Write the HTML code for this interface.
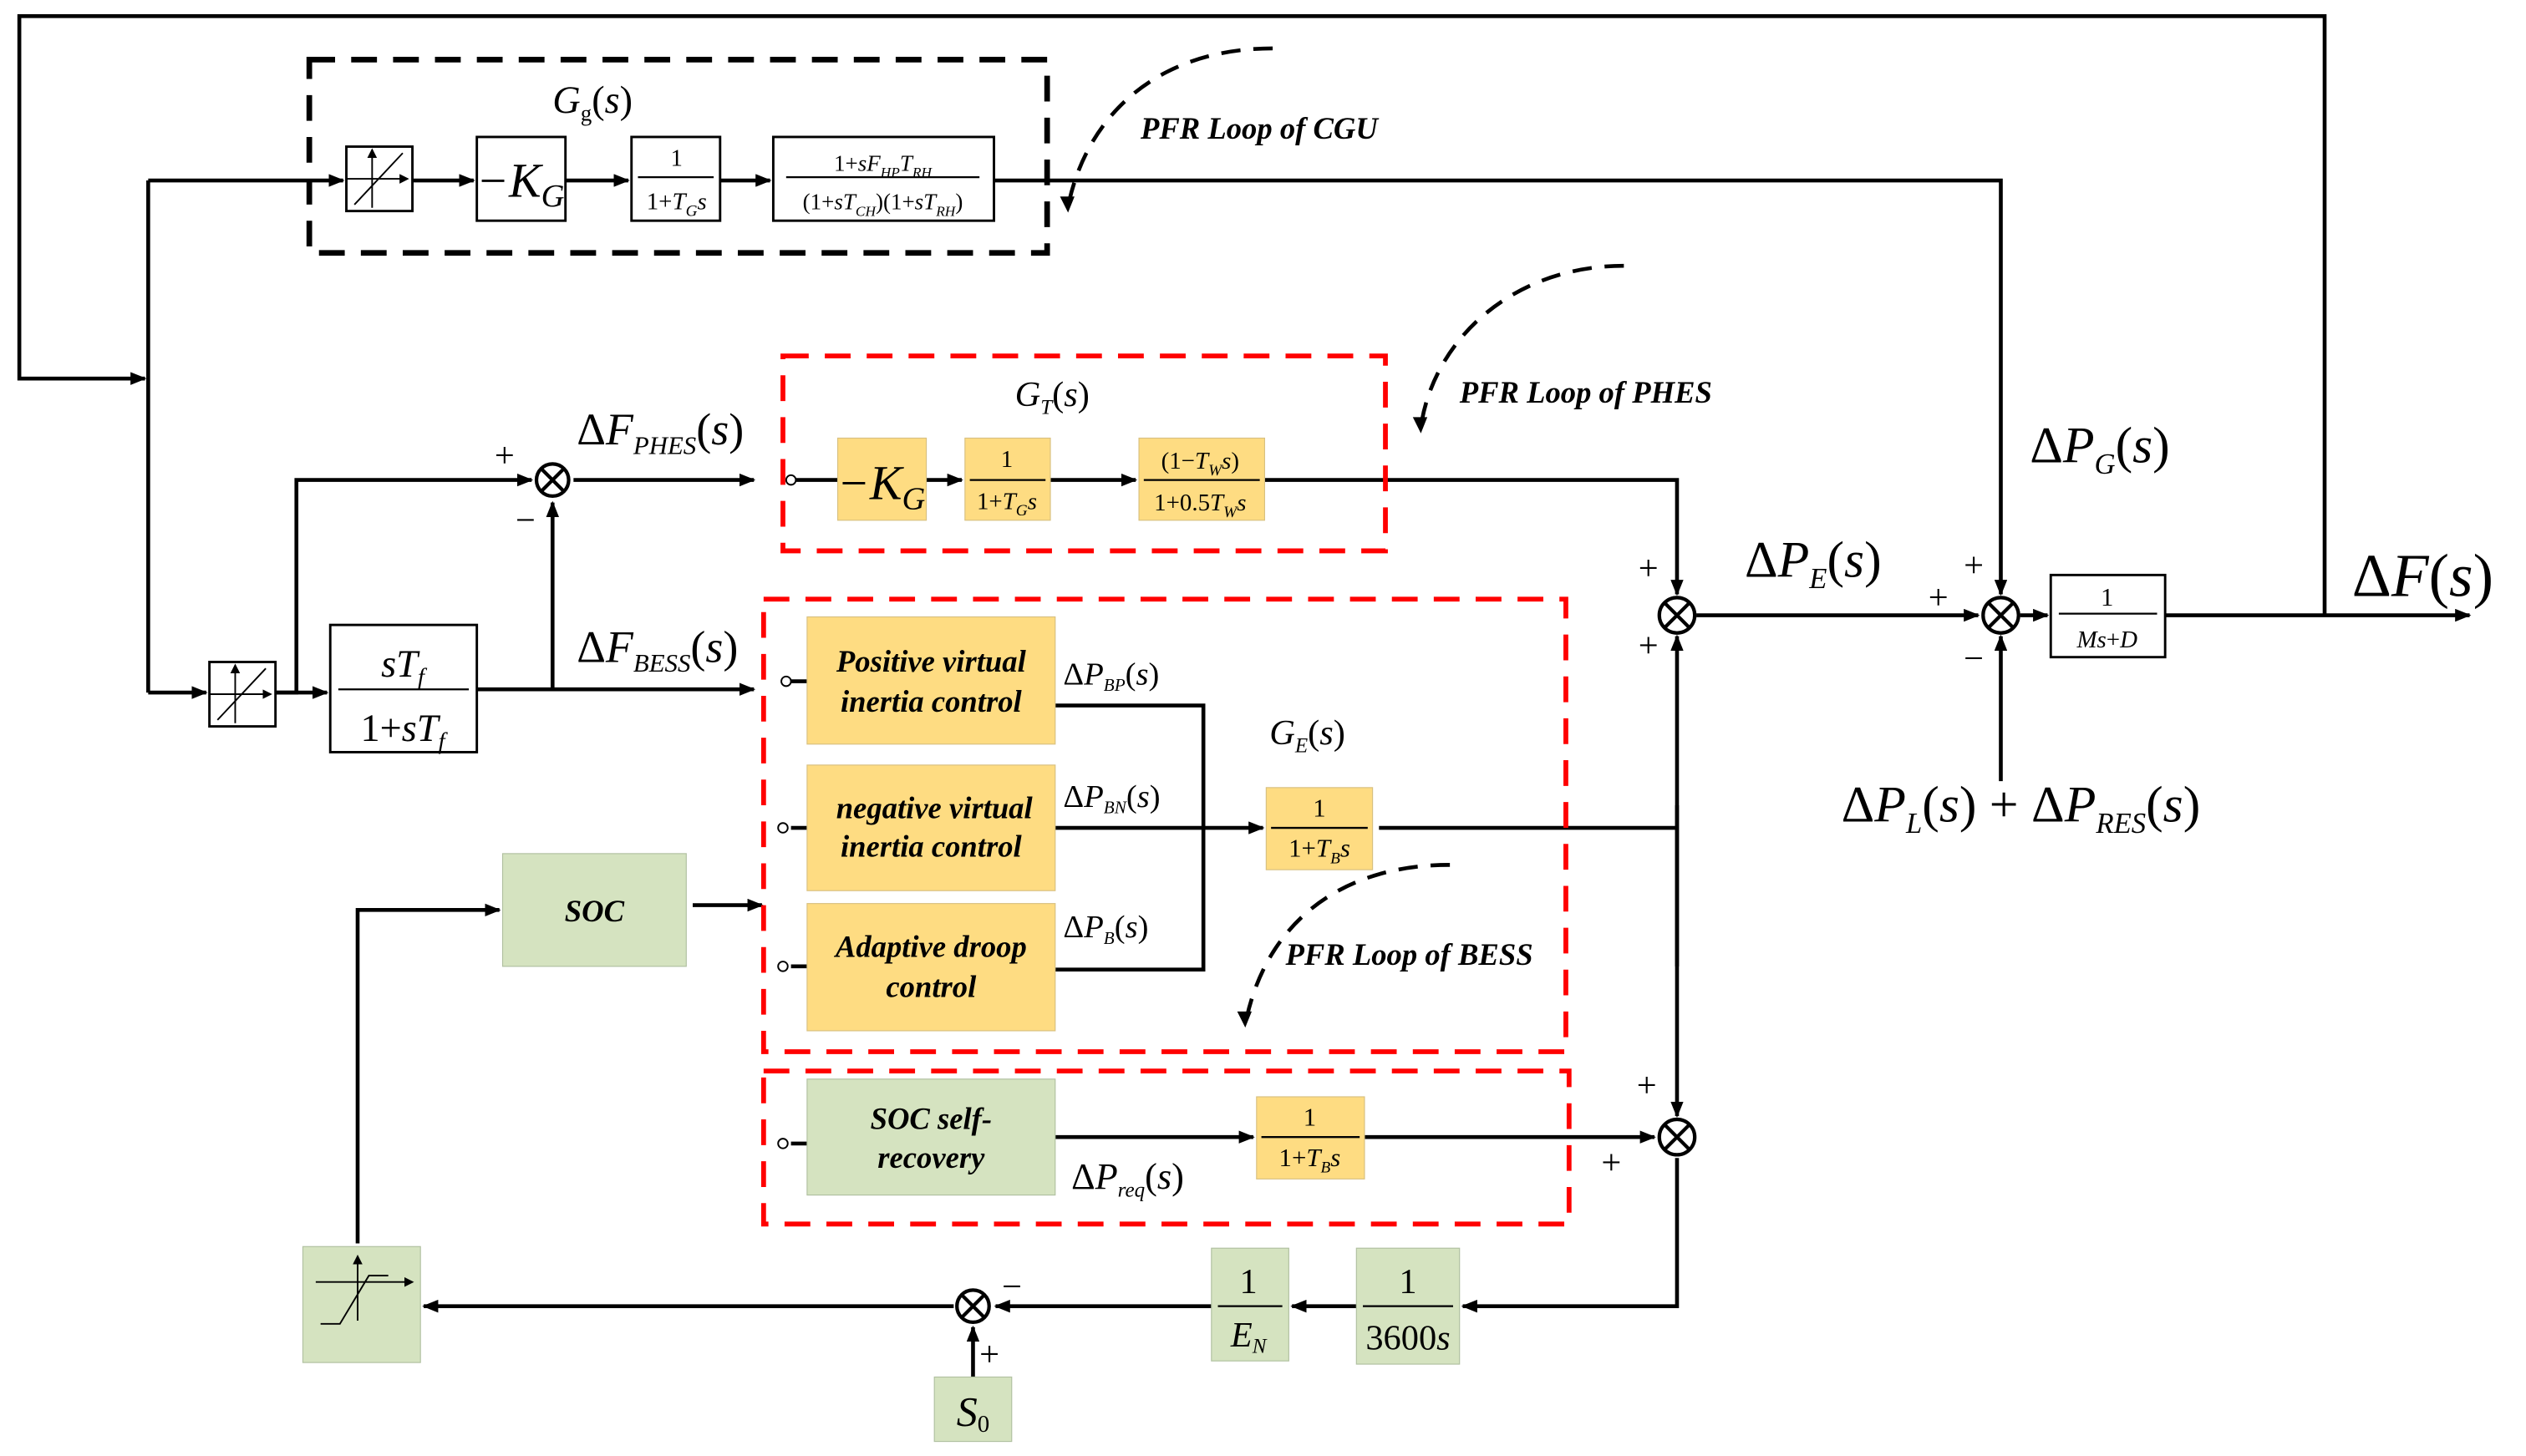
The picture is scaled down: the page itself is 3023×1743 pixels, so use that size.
<!DOCTYPE html>
<html><head><meta charset="utf-8"><style>html,body{margin:0;padding:0;background:#fff}svg{display:block}svg text{font-family:"Liberation Serif","DejaVu Serif",serif}</style></head><body>
<svg width="3023" height="1743" viewBox="0 0 1568 904" xmlns="http://www.w3.org/2000/svg">
<defs>
<marker id="a" markerWidth="10" markerHeight="8" refX="9" refY="4" orient="auto" markerUnits="userSpaceOnUse"><path d="M0,0 L10,4 L0,8 z" fill="#000"/></marker>
<marker id="s" markerWidth="6" markerHeight="6" refX="5" refY="3" orient="auto" markerUnits="userSpaceOnUse"><path d="M0,0 L6,3 L0,6 z" fill="#000"/></marker>
</defs>
<g stroke="#000" stroke-width="2.4" fill="none">
<polyline points="1443,382 1443,10 12,10 12,235 90,235" marker-end="url(#a)"/>
<polyline points="92,112 92,430"/>
<line x1="92" y1="112" x2="213" y2="112" marker-end="url(#a)"/>
<line x1="92" y1="430" x2="128" y2="430" marker-end="url(#a)"/>
<line x1="256" y1="112" x2="294" y2="112" marker-end="url(#a)"/>
<line x1="351" y1="112" x2="390" y2="112" marker-end="url(#a)"/>
<line x1="447" y1="112" x2="478" y2="112" marker-end="url(#a)"/>
<polyline points="617,112 1242,112 1242,369" marker-end="url(#a)"/>
<polyline points="171,430 184,430 184,298 330,298" marker-end="url(#a)"/>
<line x1="356" y1="298" x2="468" y2="298" marker-end="url(#a)"/>
<line x1="343" y1="428" x2="343" y2="312" marker-end="url(#a)"/>
<line x1="171" y1="430" x2="203" y2="430" marker-end="url(#a)"/>
<line x1="296" y1="428" x2="468" y2="428" marker-end="url(#a)"/>
<line x1="494" y1="298" x2="520" y2="298"/>
<line x1="575" y1="298" x2="597" y2="298" marker-end="url(#a)"/>
<line x1="652" y1="298" x2="705" y2="298" marker-end="url(#a)"/>
<polyline points="785,298 1041,298 1041,369" marker-end="url(#a)"/>
<polyline points="655,438 747,438 747,602 655,602"/>
<line x1="655" y1="514" x2="784" y2="514" marker-end="url(#a)"/>
<line x1="856" y1="514" x2="1041" y2="514"/>
<line x1="1041" y1="600" x2="1041" y2="395" marker-end="url(#a)"/>
<line x1="1041" y1="500" x2="1041" y2="693" marker-end="url(#a)"/>
<line x1="491" y1="423" x2="501" y2="423"/>
<line x1="491" y1="514" x2="501" y2="514"/>
<line x1="491" y1="600" x2="501" y2="600"/>
<line x1="491" y1="710" x2="501" y2="710"/>
<line x1="430" y1="562" x2="473" y2="562" marker-end="url(#a)"/>
<polyline points="222,772 222,565 310,565" marker-end="url(#a)"/>
<line x1="655" y1="706" x2="778" y2="706" marker-end="url(#a)"/>
<line x1="847" y1="706" x2="1027" y2="706" marker-end="url(#a)"/>
<polyline points="1041,719 1041,811 908,811" marker-end="url(#a)"/>
<line x1="842" y1="811" x2="802" y2="811" marker-end="url(#a)"/>
<line x1="752" y1="811" x2="618" y2="811" marker-end="url(#a)"/>
<line x1="592" y1="811" x2="263" y2="811" marker-end="url(#a)"/>
<line x1="604" y1="855" x2="604" y2="824" marker-end="url(#a)"/>
<line x1="1053" y1="382" x2="1228" y2="382" marker-end="url(#a)"/>
<line x1="1254" y1="382" x2="1271" y2="382" marker-end="url(#a)"/>
<line x1="1344" y1="382" x2="1533" y2="382" marker-end="url(#a)"/>
<line x1="1242" y1="485" x2="1242" y2="395" marker-end="url(#a)"/>
</g>
<g stroke="#000" stroke-width="2.2" fill="#fff">
<circle cx="343" cy="298" r="10"/><circle cx="1041" cy="382" r="11"/><circle cx="1242" cy="382" r="11"/><circle cx="1041" cy="706" r="11"/><circle cx="604" cy="811" r="10"/>
</g>
<g stroke="#000" stroke-width="2.2">
<path d="M336,291 l14,14 M350,291 l-14,14"/>
<path d="M1033,374 l16,16 M1049,374 l-16,16"/>
<path d="M1234,374 l16,16 M1250,374 l-16,16"/>
<path d="M1033,698 l16,16 M1049,698 l-16,16"/>
<path d="M597,804 l14,14 M611,804 l-14,14"/>
</g>
<g stroke="#000" stroke-width="1" fill="#fff">
<circle cx="491" cy="298" r="3"/><circle cx="488" cy="423" r="3"/><circle cx="486" cy="514" r="3"/><circle cx="486" cy="600" r="3"/><circle cx="486" cy="710" r="3"/>
</g>
<rect x="192" y="37" width="458" height="120" fill="none" stroke="#000" stroke-width="3.5" stroke-dasharray="16,10"/>
<rect x="486" y="221" width="374" height="121" fill="none" stroke="#f00" stroke-width="3" stroke-dasharray="16,10"/>
<rect x="474" y="372" width="498" height="281" fill="none" stroke="#f00" stroke-width="3" stroke-dasharray="16,10"/>
<rect x="474" y="665" width="500" height="95" fill="none" stroke="#f00" stroke-width="3" stroke-dasharray="16,10"/>
<g fill="none" stroke="#000" stroke-width="2.4" stroke-dasharray="12,8">
<path d="M790,30 C720,30 675,70 663,128"/>
<path d="M1008,165 C940,165 890,210 882,265"/>
<path d="M900,537 C830,537 785,575 773,636"/>
</g>
<path d="M658,122 l5,10 l4,-10z M877,259 l5,10 l4,-10z M768,628 l5,10 l4,-10z" fill="#000"/>
<g fill="#fff" stroke="#000" stroke-width="1.5">
<rect x="215" y="91" width="41" height="40"/><rect x="296" y="85" width="55" height="52"/><rect x="392" y="85" width="55" height="52"/><rect x="480" y="85" width="137" height="52"/>
<rect x="130" y="411" width="41" height="40"/><rect x="205" y="388" width="91" height="79"/><rect x="1273" y="357" width="71" height="51"/>
</g>
<g fill="#fedc82" stroke="#d8c080" stroke-width="0.6">
<rect x="520" y="272" width="55" height="51"/><rect x="599" y="272" width="53" height="51"/><rect x="707" y="272" width="78" height="51"/>
<rect x="501" y="383" width="154" height="79"/><rect x="501" y="475" width="154" height="78"/><rect x="501" y="561" width="154" height="79"/>
<rect x="786" y="489" width="66" height="51"/><rect x="780" y="681" width="67" height="51"/>
</g>
<g fill="#d5e3c0" stroke="#b0c0a0" stroke-width="0.6">
<rect x="312" y="530" width="114" height="70"/><rect x="501" y="670" width="154" height="72"/><rect x="188" y="774" width="73" height="72"/>
<rect x="752" y="775" width="48" height="70"/><rect x="842" y="775" width="64" height="72"/><rect x="580" y="855" width="48" height="40"/>
</g>
<g stroke="#000" stroke-width="1" fill="none">
<path d="M215,111 h38" marker-end="url(#s)"/><path d="M231,129 v-36" marker-end="url(#s)"/><path d="M220,127 l30,-32"/>
<path d="M130,431 h38" marker-end="url(#s)"/><path d="M146,449 v-36" marker-end="url(#s)"/><path d="M135,447 l30,-32"/>
<path d="M196,796 h60" marker-end="url(#s)"/>
<path d="M222,820 v-40" marker-end="url(#s)"/>
<path d="M199,822 h12 l18,-30 h12"/>
</g>
<g stroke="#000" stroke-width="1.2">
<line x1="396" y1="110" x2="443" y2="110"/><line x1="488" y1="110" x2="608" y2="110"/>
<line x1="210" y1="428" x2="291" y2="428"/><line x1="1278" y1="381" x2="1339" y2="381"/>
<line x1="602" y1="298" x2="649" y2="298"/><line x1="710" y1="298" x2="782" y2="298"/>
<line x1="789" y1="514" x2="849" y2="514"/><line x1="783" y1="706" x2="844" y2="706"/>
<line x1="756" y1="811" x2="796" y2="811"/><line x1="846" y1="811" x2="902" y2="811"/>
</g>
<g font-style="italic" fill="#000" text-anchor="middle">
<text x="323" y="122" font-size="30">−K<tspan font-size="20" dy="6">G</tspan></text>
<text x="547" y="310" font-size="30">−K<tspan font-size="20" dy="6">G</tspan></text>
<text x="250" y="420" font-size="24">sT<tspan font-size="15" dy="5">f</tspan></text>
<text x="250" y="460" font-size="24"><tspan font-style="normal">1+</tspan>sT<tspan font-size="15" dy="5">f</tspan></text>
<text x="1308" y="402" font-size="15">Ms<tspan font-style="normal">+</tspan>D</text>
<text x="420" y="130" font-size="15"><tspan font-style="normal">1+</tspan>T<tspan font-size="10" dy="4">G</tspan><tspan dy="-4">s</tspan></text>
<text x="548" y="106" font-size="14"><tspan font-style="normal">1+</tspan>sF<tspan font-size="9" dy="4">HP</tspan><tspan dy="-4">T</tspan><tspan font-size="9" dy="4">RH</tspan></text>
<text x="548" y="130" font-size="14"><tspan font-style="normal">(1+</tspan>sT<tspan font-size="9" dy="4">CH</tspan><tspan dy="-4" font-style="normal">)(1+</tspan>sT<tspan font-size="9" dy="4">RH</tspan><tspan dy="-4" font-style="normal">)</tspan></text>
<text x="625" y="316" font-size="15"><tspan font-style="normal">1+</tspan>T<tspan font-size="10" dy="4">G</tspan><tspan dy="-4">s</tspan></text>
<text x="745" y="291" font-size="15"><tspan font-style="normal">(1−</tspan>T<tspan font-size="10" dy="4">W</tspan><tspan dy="-4">s</tspan><tspan font-style="normal">)</tspan></text>
<text x="745" y="317" font-size="15"><tspan font-style="normal">1+0.5</tspan>T<tspan font-size="10" dy="4">W</tspan><tspan dy="-4">s</tspan></text>
<text x="819" y="532" font-size="16"><tspan font-style="normal">1+</tspan>T<tspan font-size="10" dy="4">B</tspan><tspan dy="-4">s</tspan></text>
<text x="813" y="724" font-size="16"><tspan font-style="normal">1+</tspan>T<tspan font-size="10" dy="4">B</tspan><tspan dy="-4">s</tspan></text>
<text x="775" y="836" font-size="22">E<tspan font-size="13" dy="4">N</tspan></text>
<text x="874" y="838" font-size="22"><tspan font-style="normal">3600</tspan>s</text>
<text x="604" y="885" font-size="26">S<tspan font-size="15" dy="4" font-style="normal">0</tspan></text>
<g font-style="normal">
<text x="420" y="103" font-size="15">1</text><text x="625" y="290" font-size="15">1</text>
<text x="1308" y="376" font-size="16">1</text><text x="819" y="507" font-size="16">1</text><text x="813" y="699" font-size="16">1</text>
<text x="775" y="803" font-size="22">1</text><text x="874" y="803" font-size="22">1</text>
</g>
<g font-weight="bold" font-size="19">
<text x="578" y="417">Positive virtual</text><text x="578" y="442">inertia control</text>
<text x="580" y="508">negative virtual</text><text x="578" y="532">inertia control</text>
<text x="578" y="594">Adaptive droop</text><text x="578" y="619">control</text>
<text x="369" y="572">SOC</text>
<text x="578" y="701">SOC self-</text><text x="578" y="725">recovery</text>
</g>
</g>
<g font-style="italic" fill="#000">
<g font-weight="bold" font-size="19">
<text x="708" y="86">PFR Loop of  CGU</text>
<text x="906" y="250">PFR Loop of PHES</text>
<text x="798" y="599">PFR Loop of BESS</text>
</g>
<text x="343" y="70" font-size="24">G<tspan font-size="14" dy="5" font-style="normal">g</tspan><tspan dy="-5" font-style="normal">(</tspan>s<tspan font-style="normal">)</tspan></text>
<text x="630" y="252" font-size="22">G<tspan font-size="13" dy="5">T</tspan><tspan dy="-5" font-style="normal">(</tspan>s<tspan font-style="normal">)</tspan></text>
<text x="788" y="462" font-size="22">G<tspan font-size="13" dy="5">E</tspan><tspan dy="-5" font-style="normal">(</tspan>s<tspan font-style="normal">)</tspan></text>
<text x="358" y="276" font-size="28"><tspan font-style="normal">Δ</tspan>F<tspan font-size="16" dy="6">PHES</tspan><tspan dy="-6" font-style="normal">(</tspan>s<tspan font-style="normal">)</tspan></text>
<text x="358" y="411" font-size="28"><tspan font-style="normal">Δ</tspan>F<tspan font-size="16" dy="6">BESS</tspan><tspan dy="-6" font-style="normal">(</tspan>s<tspan font-style="normal">)</tspan></text>
<text x="660" y="425" font-size="20"><tspan font-style="normal">Δ</tspan>P<tspan font-size="11" dy="4">BP</tspan><tspan dy="-4" font-style="normal">(</tspan>s<tspan font-style="normal">)</tspan></text>
<text x="660" y="501" font-size="20"><tspan font-style="normal">Δ</tspan>P<tspan font-size="11" dy="4">BN</tspan><tspan dy="-4" font-style="normal">(</tspan>s<tspan font-style="normal">)</tspan></text>
<text x="660" y="582" font-size="20"><tspan font-style="normal">Δ</tspan>P<tspan font-size="11" dy="4">B</tspan><tspan dy="-4" font-style="normal">(</tspan>s<tspan font-style="normal">)</tspan></text>
<text x="665" y="738" font-size="23"><tspan font-style="normal">Δ</tspan>P<tspan font-size="13" dy="5">req</tspan><tspan dy="-5" font-style="normal">(</tspan>s<tspan font-style="normal">)</tspan></text>
<text x="1083" y="358" font-size="32"><tspan font-style="normal">Δ</tspan>P<tspan font-size="18" dy="7">E</tspan><tspan dy="-7" font-style="normal">(</tspan>s<tspan font-style="normal">)</tspan></text>
<text x="1260" y="287" font-size="32"><tspan font-style="normal">Δ</tspan>P<tspan font-size="18" dy="7">G</tspan><tspan dy="-7" font-style="normal">(</tspan>s<tspan font-style="normal">)</tspan></text>
<text x="1460" y="370" font-size="38"><tspan font-style="normal">Δ</tspan>F<tspan font-style="normal">(</tspan>s<tspan font-style="normal">)</tspan></text>
<text x="1143" y="510" font-size="32"><tspan font-style="normal">Δ</tspan>P<tspan font-size="18" dy="7">L</tspan><tspan dy="-7" font-style="normal">(</tspan>s<tspan font-style="normal">) + Δ</tspan>P<tspan font-size="18" dy="7">RES</tspan><tspan dy="-7" font-style="normal">(</tspan>s<tspan font-style="normal">)</tspan></text>
</g>
<g fill="#000" font-size="22">
<text x="307" y="290">+</text><text x="320" y="330">−</text>
<text x="1017" y="360">+</text><text x="1017" y="408">+</text>
<text x="1197" y="378">+</text><text x="1219" y="358">+</text><text x="1219" y="416">−</text>
<text x="1016" y="681">+</text><text x="994" y="729">+</text>
<text x="622" y="806">−</text><text x="608" y="848">+</text>
</g>
</svg>
</body></html>
